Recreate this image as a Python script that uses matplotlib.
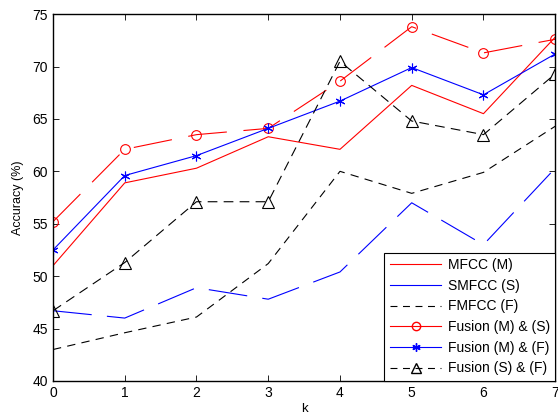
import matplotlib
matplotlib.use("Agg")
import matplotlib.pyplot as plt
from matplotlib.lines import Line2D

plt.rcParams["font.family"] = ["Liberation Sans", "DejaVu Sans"]
plt.rcParams["lines.scale_dashes"] = False

k = [0, 1, 2, 3, 4, 5, 6, 7]
mfcc = [51.0, 58.9, 60.3, 63.3, 62.1, 68.2, 65.5, 72.8]
smfcc = [46.7, 46.0, 48.9, 47.8, 50.4, 57.0, 53.0, 60.3]
fmfcc = [43.0, 44.6, 46.1, 51.2, 60.0, 57.9, 59.9, 64.3]
fusion_ms = [55.2, 62.1, 63.5, 64.1, 68.6, 73.8, 71.3, 72.6]
fusion_mf = [52.5, 59.6, 61.5, 64.1, 66.7, 69.9, 67.3, 71.2]
fusion_sf = [46.7, 51.3, 57.1, 57.1, 70.5, 64.8, 63.5, 69.3]

labels = ["MFCC (M)", "SMFCC (S)", "FMFCC (F)",
          "Fusion (M) & (S)", "Fusion (M) & (F)", "Fusion (S) & (F)"]

fig = plt.figure(figsize=(5.58, 4.15), dpi=100)
ax = fig.add_axes([0.095, 0.082, 0.9, 0.884])

lw = 0.8
ax.plot(k, mfcc, color="red", lw=lw)
ax.plot(k, smfcc, color="blue", lw=lw, dashes=(28, 11))
ax.plot(k, fmfcc, color="black", lw=lw, dashes=(6, 4.5))
ax.plot(k, fusion_ms, color="red", lw=lw, dashes=(28, 12),
        marker="o", ms=7, mfc="none", mec="red", mew=0.8)
ax.plot(k, fusion_mf, color="blue", lw=lw,
        marker=(6, 2, 0), ms=7, mec="blue", mew=0.8)
ax.plot(k, fusion_sf, color="black", lw=lw, dashes=(7, 4.5),
        marker="^", ms=8, mfc="none", mec="black", mew=0.8)

handles = [
    Line2D([], [], color="red", lw=lw),
    Line2D([], [], color="blue", lw=lw),
    Line2D([], [], color="black", lw=lw, dashes=(5, 4)),
    Line2D([], [], color="red", lw=lw, marker="o", ms=6, mfc="none"),
    Line2D([], [], color="blue", lw=lw, marker=(6, 2, 0), ms=6),
    Line2D([], [], color="black", lw=lw, dashes=(5, 4), marker="^", ms=6.5, mfc="none"),
]
leg = ax.legend(handles, labels, loc="lower right", fontsize=10,
                borderaxespad=0, fancybox=False, framealpha=1,
                edgecolor="black", handlelength=3.7, labelspacing=0.48,
                borderpad=0.4, handletextpad=0.45)
leg.get_frame().set_linewidth(0.8)

ax.set_xlim(0, 7)
ax.set_ylim(40, 75)
ax.set_xticks(k)
ax.set_yticks(range(40, 76, 5))
ax.tick_params(direction="in", top=True, right=True, length=4,
               labelsize=10, width=0.6)
for s in ax.spines.values():
    s.set_linewidth(1.0)
ax.set_xlabel("k", fontsize=9.5, labelpad=2)
ax.set_ylabel("Accuracy (%)", fontsize=9, labelpad=6)

fig.savefig("out.png", dpi=100)
